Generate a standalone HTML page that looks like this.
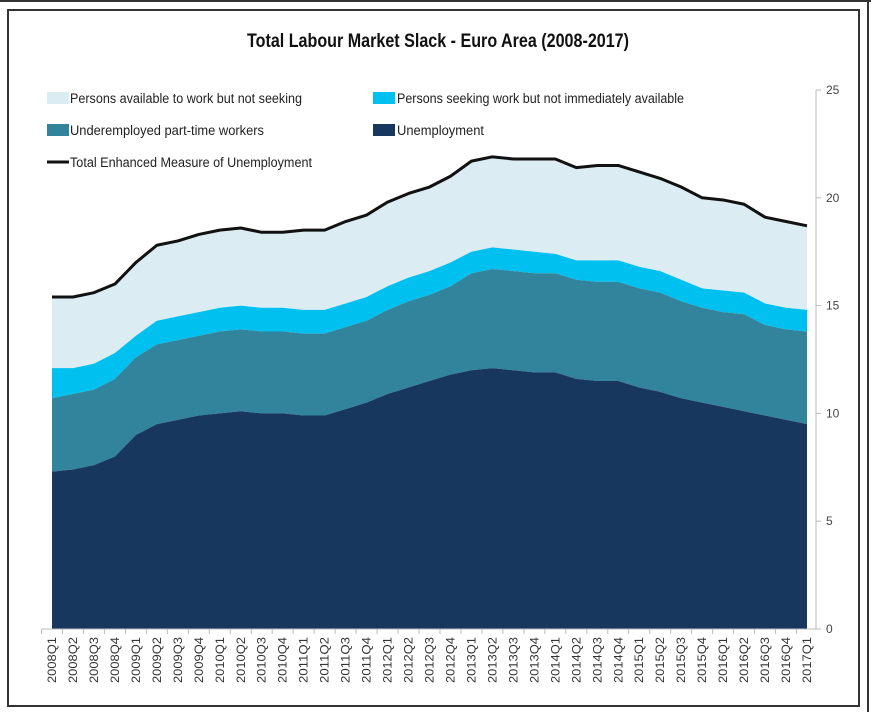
<!DOCTYPE html>
<html><head><meta charset="utf-8"><style>
html,body{margin:0;padding:0;background:#fff;}
svg{display:block;font-family:"Liberation Sans Narrow","Liberation Sans",sans-serif;}
</style></head><body>
<svg id="chart" width="871" height="712" viewBox="0 0 871 712" xmlns="http://www.w3.org/2000/svg">
<line x1="0" y1="1" x2="871" y2="1" stroke="#333" stroke-width="2"/>
<rect x="8" y="10" width="851" height="696" fill="none" stroke="#333" stroke-width="2"/>
<line x1="868" y1="0" x2="868" y2="712" stroke="#333" stroke-width="2"/>
<text x="438" y="47" text-anchor="middle" font-size="19" font-weight="bold" fill="#111" textLength="382" lengthAdjust="spacingAndGlyphs">Total Labour Market Slack - Euro Area (2008-2017)</text>
<g id="legend">
 <g><rect x="47" y="92" width="22" height="12" fill="#dbecf2"/><text x="70" y="103" font-size="13.5" fill="#222" textLength="232" lengthAdjust="spacingAndGlyphs">Persons available to work but not seeking</text></g>
 <g><rect x="373" y="92" width="22" height="12" fill="#00c0f0"/><text x="397" y="103" font-size="13.5" fill="#222" textLength="287" lengthAdjust="spacingAndGlyphs">Persons seeking work but not immediately available</text></g>
 <g><rect x="47" y="124" width="22" height="12" fill="#31849b"/><text x="70" y="135" font-size="13.5" fill="#222" textLength="194" lengthAdjust="spacingAndGlyphs">Underemployed part-time workers</text></g>
 <g><rect x="373" y="124" width="22" height="12" fill="#17375e"/><text x="397" y="135" font-size="13.5" fill="#222" textLength="87" lengthAdjust="spacingAndGlyphs">Unemployment</text></g>
 <g><line x1="47" y1="162" x2="69" y2="162" stroke="#111" stroke-width="3"/><text x="70" y="167" font-size="13.5" fill="#222" textLength="242" lengthAdjust="spacingAndGlyphs">Total Enhanced Measure of Unemployment</text></g>
</g>
<g id="plot"></g>
</svg>
<script>
const categories = [];
for (let y = 2008; y <= 2017; y++) for (let q = 1; q <= 4; q++) { if (y === 2017 && q > 1) break; categories.push(y + 'Q' + q); }
const unemployment = [7.3,7.4,7.6,8.0,9.0,9.5,9.7,9.9,10.0,10.1,10.0,10.0,9.9,9.9,10.2,10.5,10.9,11.2,11.5,11.8,12.0,12.1,12.0,11.9,11.9,11.6,11.5,11.5,11.2,11.0,10.7,10.5,10.3,10.1,9.9,9.7,9.5];
const underemployed = [3.4,3.5,3.5,3.6,3.6,3.7,3.7,3.7,3.8,3.8,3.8,3.8,3.8,3.8,3.8,3.8,3.9,4.0,4.0,4.1,4.5,4.6,4.6,4.6,4.6,4.6,4.6,4.6,4.6,4.6,4.5,4.4,4.4,4.5,4.2,4.2,4.3];
const seeking = [1.4,1.2,1.2,1.2,1.0,1.1,1.1,1.1,1.1,1.1,1.1,1.1,1.1,1.1,1.1,1.1,1.1,1.1,1.1,1.1,1.0,1.0,1.0,1.0,0.9,0.9,1.0,1.0,1.0,1.0,1.0,0.9,1.0,1.0,1.0,1.0,1.0];
const available = [3.3,3.3,3.3,3.2,3.4,3.5,3.5,3.6,3.6,3.6,3.5,3.5,3.7,3.7,3.8,3.8,3.9,3.9,3.9,4.0,4.2,4.2,4.2,4.3,4.4,4.3,4.4,4.4,4.4,4.3,4.3,4.2,4.2,4.1,4.0,4.0,3.9];
const yTicks = [0,5,10,15,20,25];

const NS = 'http://www.w3.org/2000/svg';
const plot = document.getElementById('plot');
const x0 = 52, x1 = 807, yBase = 629, yTop = 90, yMax = 25;
const step = (x1 - x0) / (categories.length - 1);
const xS = i => x0 + i * step;
const yS = v => yBase - v / yMax * (yBase - yTop);
function mk(tag, attrs) { const e = document.createElementNS(NS, tag); for (const k in attrs) e.setAttribute(k, attrs[k]); plot.appendChild(e); return e; }

const series = [unemployment, underemployed, seeking, available];
const colors = ['#17375e', '#31849b', '#00c0f0', '#dbecf2'];
const names = ['area-unemployment', 'area-underemployed', 'area-seeking', 'area-available'];
let lower = categories.map(() => 0);
const layers = [];
series.forEach((s, k) => {
  const upper = lower.map((v, i) => v + s[i]);
  let d = 'M' + upper.map((v, i) => xS(i) + ',' + yS(v)).join('L');
  for (let i = categories.length - 1; i >= 0; i--) d += 'L' + xS(i) + ',' + yS(lower[i]);
  layers.push({ d: d + 'Z', c: colors[k], n: names[k] });
  lower = upper;
});
layers.reverse().forEach(l => {
  const p = mk('path', { d: l.d, fill: l.c });
  
  
});
const total = lower;
const line = mk('path', { d: 'M' + total.map((v, i) => xS(i) + ',' + yS(v)).join('L'), fill: 'none', stroke: '#111', 'stroke-width': 3, 'stroke-linejoin': 'round' });



// y axis (right)
const ax = mk('line', { x1: 816, y1: yTop, x2: 816, y2: yBase, stroke: '#bbb' });


yTicks.forEach(t => {
  mk('line', { x1: 816, y1: yS(t), x2: 821, y2: yS(t), stroke: '#bbb' });
  const tx = mk('text', { x: 826, y: yS(t) + 4, 'font-size': 12, fill: '#444' });
  tx.textContent = t;
  
  
});
// x axis
const xa = mk('line', { x1: x0 - step / 2, y1: yBase, x2: 816, y2: yBase, stroke: '#bbb' });


categories.forEach((c, i) => {
  mk('line', { x1: xS(i) - step / 2, y1: yBase, x2: xS(i) - step / 2, y2: yBase + 5, stroke: '#bbb' });
  const tx = mk('text', { x: 0, y: 0, 'font-size': 11.5, fill: '#333', 'text-anchor': 'end', transform: 'translate(' + (xS(i) + 4) + ',' + (yBase + 8) + ') rotate(-90)', textLength: 46, lengthAdjust: 'spacingAndGlyphs' });
  tx.textContent = c;
  
  
});
</script>
</body></html>
